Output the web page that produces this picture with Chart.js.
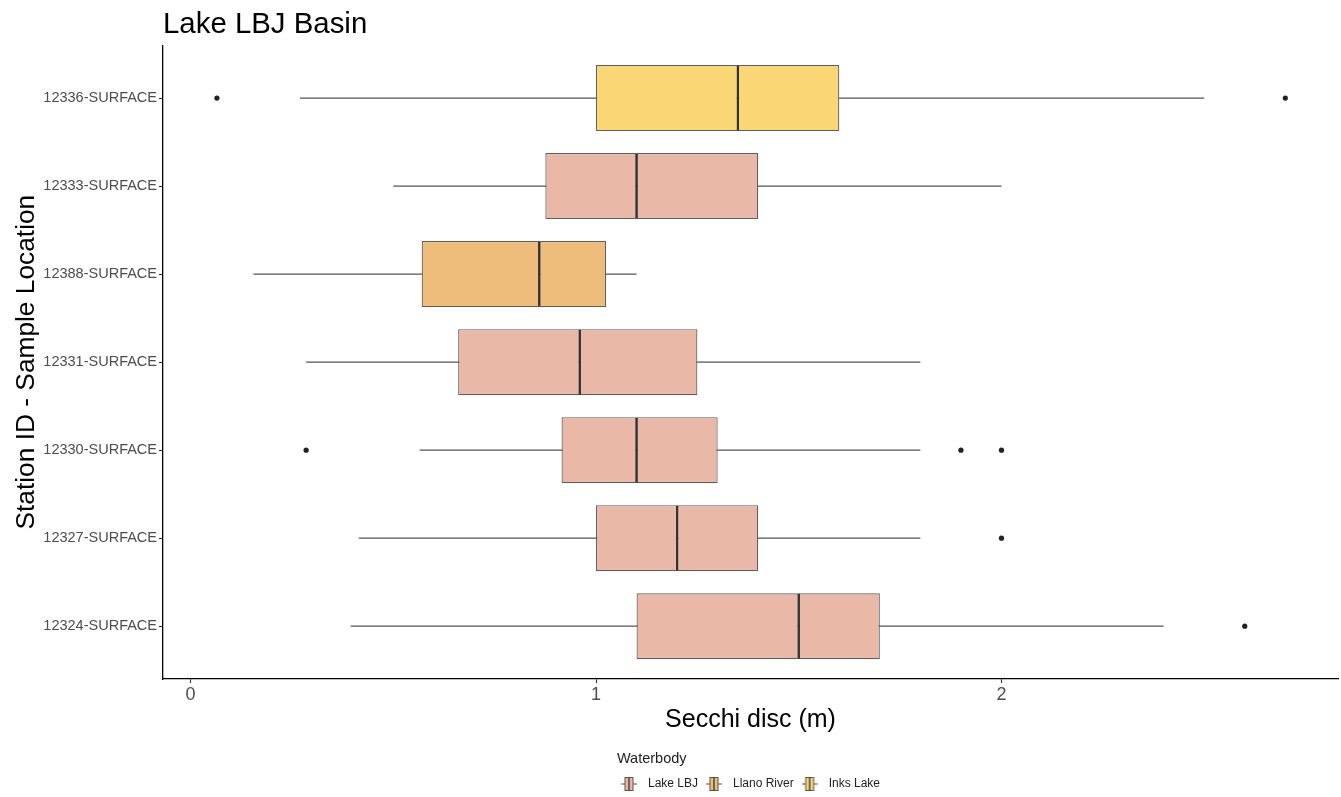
<!DOCTYPE html>
<html><head><meta charset="utf-8">
<script src="https://cdn.jsdelivr.net/npm/chart.js@4"></script>
<style>html,body{margin:0;padding:0;background:#fff}#wrap{width:1341px;height:797px;position:relative}</style>
</head><body><div id="wrap"><canvas id="c"></canvas></div>
<script>
// ---- data ----
const stations = ['12336-SURFACE','12333-SURFACE','12388-SURFACE','12331-SURFACE','12330-SURFACE','12327-SURFACE','12324-SURFACE'];
const waterbody = ['Inks Lake','Lake LBJ','Llano River','Lake LBJ','Lake LBJ','Lake LBJ','Lake LBJ'];
const whiskerLow  = [0.27, 0.50, 0.155, 0.285, 0.565, 0.415, 0.395];
const q1          = [1.00, 0.875, 0.57, 0.66, 0.915, 1.00, 1.10];
const median      = [1.35, 1.10, 0.86, 0.96, 1.10, 1.20, 1.50];
const q3          = [1.60, 1.40, 1.025, 1.25, 1.30, 1.40, 1.70];
const whiskerHigh = [2.50, 2.00, 1.10, 1.80, 1.80, 1.80, 2.40];
const outlierStation = ['12336-SURFACE','12336-SURFACE','12330-SURFACE','12330-SURFACE','12330-SURFACE','12327-SURFACE','12324-SURFACE'];
const outlierValue   = [0.065, 2.70, 0.285, 1.90, 2.00, 2.00, 2.60];
const legendOrder = ['Lake LBJ','Llano River','Inks Lake'];
const xTicks = [0, 1, 2];

// ---- styles ----
const fillColors = {'Lake LBJ':'#EAB8A7','Llano River':'#EFBD7B','Inks Lake':'#FAD774'};
const FONT = "'Liberation Sans', Arial, sans-serif";
Chart.defaults.font.family = FONT;

const rowFill = waterbody.map(w => fillColors[w]);
const rowIndex = s => stations.indexOf(s);

function glyph(color){
  const c = document.createElement('canvas');
  c.width = 21; c.height = 16;
  const g = c.getContext('2d');
  g.strokeStyle = '#555'; g.lineWidth = 1;
  g.beginPath(); g.moveTo(0, 8); g.lineTo(16, 8); g.stroke();
  g.fillStyle = color; g.fillRect(4, 1.5, 8, 13);
  g.strokeRect(4, 1.5, 8, 13);
  g.strokeStyle = '#333'; g.lineWidth = 1.3;
  g.beginPath(); g.moveTo(8, 1.5); g.lineTo(8, 14.5); g.stroke();
  return c;
}

const barCommon = {type:'bar', grouped:false, categoryPercentage:1, barPercentage:0.75, borderSkipped:false, indexAxis:'y'};

new Chart(document.getElementById('c'), {
  type: 'bar',
  data: {
    datasets: [
      { type:'scatter', label:'median', data: stations.map((s,i)=>({x:median[i], y:i})),
        pointStyle:'line', pointRotation:90, pointRadius:32.5, pointHoverRadius:32.5,
        pointBorderWidth:2.2, pointBorderColor:'#333', pointBackgroundColor:'#333' },
      { type:'scatter', label:'outliers', data: outlierStation.map((s,k)=>({x:outlierValue[k], y:rowIndex(s)})),
        pointStyle:'circle', pointRadius:2.6, pointHoverRadius:2.6, pointBorderWidth:0, pointBackgroundColor:'#222' },
      { ...barCommon, label:'lower', data: stations.map((s,i)=>({x:[q1[i], median[i]], y:i})),
        backgroundColor: rowFill, borderColor:'#5f5f5f', borderWidth:1.2 },
      { ...barCommon, label:'upper', data: stations.map((s,i)=>({x:[median[i], q3[i]], y:i})),
        backgroundColor: rowFill, borderColor:'#5f5f5f', borderWidth:1.2 },
      { ...barCommon, label:'whisker', barPercentage:0.014, data: stations.map((s,i)=>({x:[whiskerLow[i], whiskerHigh[i]], y:i})),
        backgroundColor:'#555', borderWidth:0 }
    ]
  },
  options: {
    indexAxis: 'y',
    responsive: true, maintainAspectRatio: false, animation: false, events: [],
    layout: { autoPadding:false, padding: { left:0, right:3, top:0, bottom:-3 } },
    scales: {
      x: {
        type:'linear', position:'bottom', min:-0.068, max:2.83, offset:false,
        afterBuildTicks: s => { s.ticks = xTicks.map(v => ({value:v})); },
        afterFit: s => { s.height = 72.6; },
        grid: { display:true, offset:false, drawOnChartArea:false, drawTicks:true, tickLength:4, tickColor:'#333', tickWidth:1.1 },
        border: { display:true, color:'#000', width:1.3 },
        ticks: { padding:1, font:{size:18}, color:'#4d4d4d' },
        title: { display:true, text:'Secchi disc (m)', font:{size:25}, color:'#000', padding:{top:0, bottom:16} }
      },
      y: {
        type:'linear', position:'left', min:-0.6, max:6.6, reverse:true, offset:false,
        afterBuildTicks: s => { s.ticks = stations.map((_,i) => ({value:i})); },
        afterFit: s => { s.width = 163; },
        grid: { display:true, offset:false, drawOnChartArea:false, drawTicks:true, tickLength:4, tickColor:'#333', tickWidth:1.1 },
        border: { display:true, color:'#000', width:1.3 },
        ticks: { padding:2, font:{size:14.5}, color:'#4d4d4d', callback: v => stations[v] ?? '' },
        title: { display:true, text:'Station ID - Sample Location', font:{size:26.3}, color:'#000', padding:{top:11, bottom:0} }
      }
    },
    plugins: {
      tooltip: { enabled:false },
      title: { display:true, text:'Lake LBJ Basin', align:'start', fullSize:false,
        font:{size:29.4, weight:'normal'}, color:'#000', padding:{top:7, bottom:3} },
      legend: {
        display:true, position:'bottom', align:'center', fullSize:false,
        onClick: null,
        title: { display:true, text:'Waterbody', position:'start', color:'#222',
          font:{size:14.5}, padding:{top:0, bottom:1} },
        labels: {
          usePointStyle:true, pointStyleWidth:21, padding:8,
          font:{size:12}, color:'#222',
          generateLabels: () => legendOrder.map(n => ({
            text:n, pointStyle:glyph(fillColors[n]), fillStyle:fillColors[n],
            strokeStyle:'#555', lineWidth:0, hidden:false, fontColor:'#222'
          }))
        }
      }
    }
  }
});
</script>
</body></html>
